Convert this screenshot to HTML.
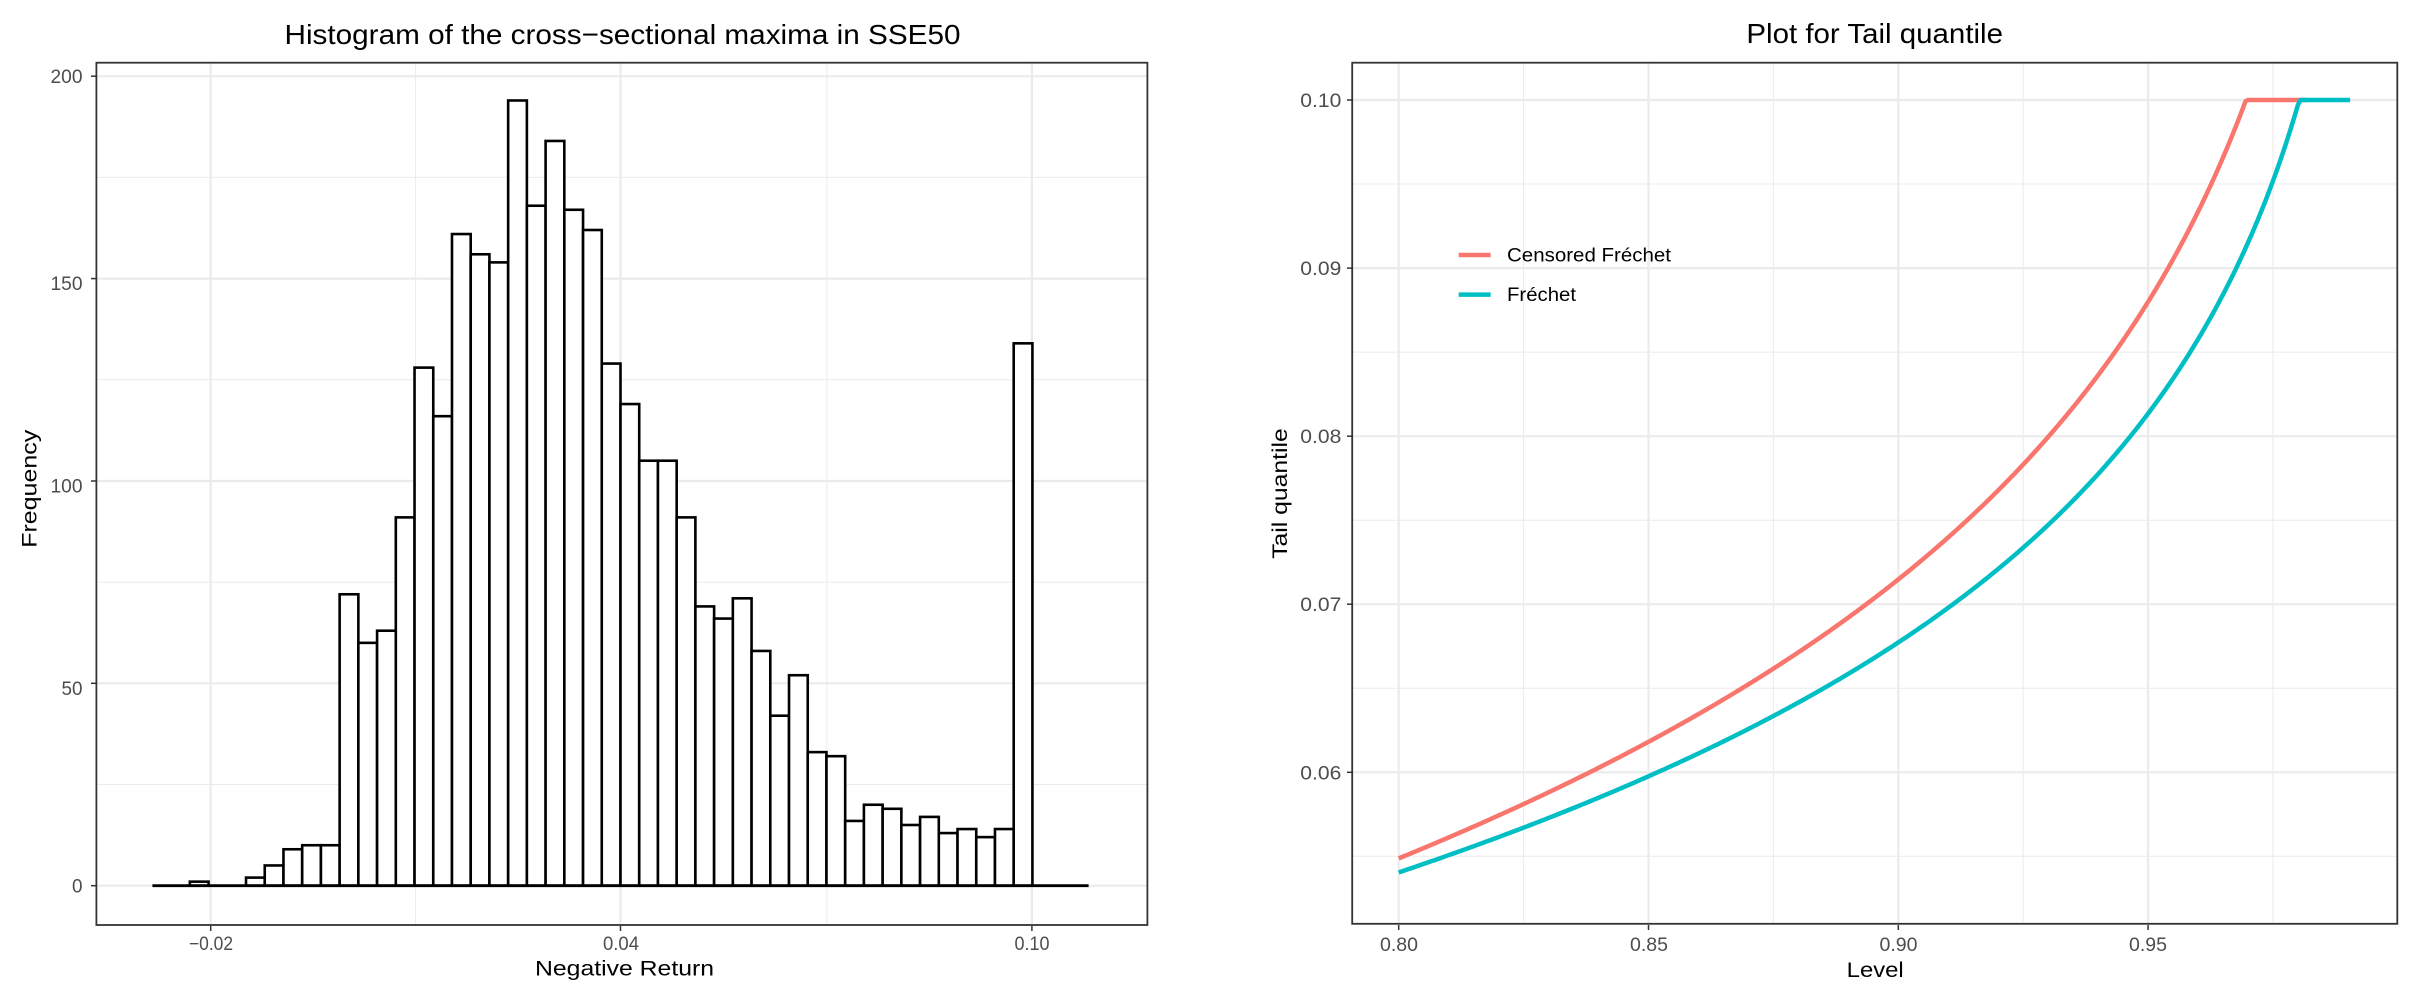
<!DOCTYPE html>
<html><head><meta charset="utf-8"><style>html,body{margin:0;padding:0;background:#fff}svg{display:block}</style></head>
<body>
<svg width="2426" height="1008" viewBox="0 0 2426 1008" xmlns="http://www.w3.org/2000/svg" font-family="Liberation Sans, Arial, sans-serif">
<rect width="2426" height="1008" fill="#fff"/>
<!-- LEFT PANEL -->
<g stroke="#EBEBEB" stroke-width="1">
<line x1="415.6" y1="63" x2="415.6" y2="924"/><line x1="826.9" y1="63" x2="826.9" y2="924"/>
<line x1="97" y1="784.5" x2="1147" y2="784.5"/><line x1="97" y1="582.2" x2="1147" y2="582.2"/><line x1="97" y1="379.8" x2="1147" y2="379.8"/><line x1="97" y1="177.4" x2="1147" y2="177.4"/>
</g>
<g stroke="#EBEBEB" stroke-width="2.2">
<line x1="210.7" y1="63" x2="210.7" y2="924"/><line x1="620.5" y1="63" x2="620.5" y2="924"/><line x1="1031.9" y1="63" x2="1031.9" y2="924"/>
<line x1="97" y1="885.7" x2="1147" y2="885.7"/><line x1="97" y1="683.3" x2="1147" y2="683.3"/><line x1="97" y1="481" x2="1147" y2="481"/><line x1="97" y1="278.6" x2="1147" y2="278.6"/><line x1="97" y1="76.2" x2="1147" y2="76.2"/>
</g>
<g id="bars" fill="#fff" stroke="#000" stroke-width="2.6"></g>
<line x1="152.4" y1="885.7" x2="1088.6" y2="885.7" stroke="#000" stroke-width="2.8"/>
<rect x="96.4" y="62.7" width="1051" height="862.3" fill="none" stroke="#333" stroke-width="1.8"/>
<g stroke="#333" stroke-width="1.5">
<line x1="91" y1="885.7" x2="96" y2="885.7"/><line x1="91" y1="683.3" x2="96" y2="683.3"/><line x1="91" y1="481" x2="96" y2="481"/><line x1="91" y1="278.6" x2="96" y2="278.6"/><line x1="91" y1="76.2" x2="96" y2="76.2"/>
<line x1="210.7" y1="926" x2="210.7" y2="931"/><line x1="620.5" y1="926" x2="620.5" y2="931"/><line x1="1031.9" y1="926" x2="1031.9" y2="931"/>
</g>
<g fill="#4D4D4D" font-size="19" text-anchor="end">
<text x="82.5" y="83" textLength="32" lengthAdjust="spacingAndGlyphs">200</text>
<text x="82.5" y="492.5" textLength="32" lengthAdjust="spacingAndGlyphs">100</text>
<text x="82.5" y="290" textLength="32" lengthAdjust="spacingAndGlyphs">150</text>
<text x="82.5" y="695" textLength="21" lengthAdjust="spacingAndGlyphs">50</text>
<text x="82.5" y="892.5" textLength="10.5" lengthAdjust="spacingAndGlyphs">0</text>
</g>
<g fill="#4D4D4D" font-size="19">
<text x="189" y="950" textLength="44" lengthAdjust="spacingAndGlyphs">−0.02</text>
<text x="603" y="950" textLength="36" lengthAdjust="spacingAndGlyphs">0.04</text>
<text x="1014.5" y="950" textLength="35" lengthAdjust="spacingAndGlyphs">0.10</text>
</g>
<text x="535" y="975.5" font-size="21" textLength="179" lengthAdjust="spacingAndGlyphs">Negative Return</text>
<text transform="translate(36.5,547.8) rotate(-90)" font-size="21" textLength="118" lengthAdjust="spacingAndGlyphs">Frequency</text>
<text x="284.5" y="44" font-size="28" textLength="676" lengthAdjust="spacingAndGlyphs">Histogram of the cross−sectional maxima in SSE50</text>

<!-- RIGHT PANEL -->
<g stroke="#EBEBEB" stroke-width="1">
<line x1="1523.6" y1="63" x2="1523.6" y2="924"/><line x1="1773.4" y1="63" x2="1773.4" y2="924"/><line x1="2023.2" y1="63" x2="2023.2" y2="924"/><line x1="2273" y1="63" x2="2273" y2="924"/>
<line x1="1353" y1="856.3" x2="2397" y2="856.3"/><line x1="1353" y1="688.2" x2="2397" y2="688.2"/><line x1="1353" y1="520.2" x2="2397" y2="520.2"/><line x1="1353" y1="352.1" x2="2397" y2="352.1"/><line x1="1353" y1="184" x2="2397" y2="184"/>
</g>
<g stroke="#EBEBEB" stroke-width="2.2">
<line x1="1398.7" y1="63" x2="1398.7" y2="924"/><line x1="1648.5" y1="63" x2="1648.5" y2="924"/><line x1="1898.3" y1="63" x2="1898.3" y2="924"/><line x1="2148.1" y1="63" x2="2148.1" y2="924"/>
<line x1="1353" y1="772.3" x2="2397" y2="772.3"/><line x1="1353" y1="604.2" x2="2397" y2="604.2"/><line x1="1353" y1="436.2" x2="2397" y2="436.2"/><line x1="1353" y1="268.1" x2="2397" y2="268.1"/><line x1="1353" y1="100" x2="2397" y2="100"/>
</g>
<g fill="none" stroke-linejoin="round" stroke-width="4.5">
<path id="red" stroke="#F8766D"/>
<path id="cyan" stroke="#00BFC4"/>
</g>
<rect x="1352.2" y="62.7" width="1045.1" height="861.1" fill="none" stroke="#333" stroke-width="1.8"/>
<g stroke="#333" stroke-width="1.5">
<line x1="1347" y1="772.3" x2="1352" y2="772.3"/><line x1="1347" y1="604.2" x2="1352" y2="604.2"/><line x1="1347" y1="436.2" x2="1352" y2="436.2"/><line x1="1347" y1="268.1" x2="1352" y2="268.1"/><line x1="1347" y1="100" x2="1352" y2="100"/>
<line x1="1398.7" y1="925" x2="1398.7" y2="930"/><line x1="1648.5" y1="925" x2="1648.5" y2="930"/><line x1="1898.3" y1="925" x2="1898.3" y2="930"/><line x1="2148.1" y1="925" x2="2148.1" y2="930"/>
</g>
<g fill="#4D4D4D" font-size="19" text-anchor="end">
<text x="1341.3" y="107" textLength="41" lengthAdjust="spacingAndGlyphs">0.10</text>
<text x="1341.3" y="275.1" textLength="41" lengthAdjust="spacingAndGlyphs">0.09</text>
<text x="1341.3" y="443.2" textLength="41" lengthAdjust="spacingAndGlyphs">0.08</text>
<text x="1341.3" y="611.2" textLength="41" lengthAdjust="spacingAndGlyphs">0.07</text>
<text x="1341.3" y="779.3" textLength="41" lengthAdjust="spacingAndGlyphs">0.06</text>
</g>
<g fill="#4D4D4D" font-size="19">
<text x="1380" y="951" textLength="38" lengthAdjust="spacingAndGlyphs">0.80</text>
<text x="1630" y="951" textLength="38" lengthAdjust="spacingAndGlyphs">0.85</text>
<text x="1879.5" y="951" textLength="38" lengthAdjust="spacingAndGlyphs">0.90</text>
<text x="2129" y="951" textLength="38" lengthAdjust="spacingAndGlyphs">0.95</text>
</g>
<text x="1846.7" y="977" font-size="21" textLength="57" lengthAdjust="spacingAndGlyphs">Level</text>
<text transform="translate(1287,558.8) rotate(-90)" font-size="21" textLength="130.5" lengthAdjust="spacingAndGlyphs">Tail quantile</text>
<text x="1746.4" y="43" font-size="28" textLength="256.6" lengthAdjust="spacingAndGlyphs">Plot for Tail quantile</text>
<!-- legend -->
<line x1="1458.7" y1="255" x2="1490.6" y2="255" stroke="#F8766D" stroke-width="4.5"/>
<line x1="1458.7" y1="294.6" x2="1490.6" y2="294.6" stroke="#00BFC4" stroke-width="4.5"/>
<text x="1507" y="261.6" font-size="19" textLength="164" lengthAdjust="spacingAndGlyphs">Censored Fréchet</text>
<text x="1507" y="301" font-size="19" textLength="69" lengthAdjust="spacingAndGlyphs">Fréchet</text>
</svg>
<script>
(function(){
var c=[0,0,1,0,0,2,5,9,10,10,72,60,63,91,128,116,161,156,154,194,168,184,167,162,129,119,105,105,91,69,66,71,58,42,52,33,32,16,20,19,15,17,13,14,12,14,134,0,0,0];
var g=document.getElementById('bars'),ns='http://www.w3.org/2000/svg';
for(var i=0;i<c.length;i++){if(!c[i])continue;var x=152.4+i*18.724,h=c[i]*4.0475;
var r=document.createElementNS(ns,'rect');r.setAttribute('x',x.toFixed(2));r.setAttribute('y',(885.7-h).toFixed(2));r.setAttribute('width','18.72');r.setAttribute('height',h.toFixed(2));g.appendChild(r);}
function lv(x){return 0.8+(x-1398.7)/249.8*0.05;}
function X(p){return 1398.7+(p-0.8)/0.05*249.8;}
function fit(pts){var best=null;
for(var k=0.05;k<2;k+=0.005){var n=pts.length,sx=0,sy=0,sxx=0,sxy=0,f=[];
for(var i=0;i<n;i++){var u=Math.pow(-Math.log(lv(pts[i][0])),-k);f.push(u);sx+=u;sy+=pts[i][1];sxx+=u*u;sxy+=u*pts[i][1];}
var B=(n*sxy-sx*sy)/(n*sxx-sx*sx),A=(sy-B*sx)/n,e=0;
for(var i=0;i<n;i++){var d=A+B*f[i]-pts[i][1];e+=d*d;}
if(!best||e<best.e)best={e:e,k:k,A:A,B:B};}
return best;}
function draw(id,pts,endP){var m=fit(pts),d='',hit=null;
for(var p=0.8;p<=0.995;p+=0.0005){var y=m.A+m.B*Math.pow(-Math.log(p),-m.k);
if(y<=100){hit=p;break;}d+=(d?' L':'M')+X(p).toFixed(2)+','+y.toFixed(2);}
d+=' L'+X(hit).toFixed(2)+',100 L'+X(endP).toFixed(2)+',100';
document.getElementById(id).setAttribute('d',d);}
var red=[[1398.7,856.7],[1523.9,801.7],[1648.2,745],[1773,671.7],[1897.3,583.3],[2011,476.7],[2050.8,433.3],[2084.7,388.3],[2118.6,343.3],[2148,301.7],[2176.3,256.7],[2203.4,200],[2220.3,163.3],[2237.3,125]];
var cy=[[1398.7,880],[1523.9,833.3],[1648.2,778.3],[1773,716],[1897.3,640.7],[2011,550],[2050.8,520],[2084.7,485],[2118.6,441.7],[2148,410],[2176.3,373.3],[2203.4,326.7],[2230.5,283.3],[2250.8,236.7],[2271.2,190],[2288.1,146.7]];
draw('red',red,lv(2306));
draw('cyan',cy,lv(2350.2));
})();
</script>
</body></html>
